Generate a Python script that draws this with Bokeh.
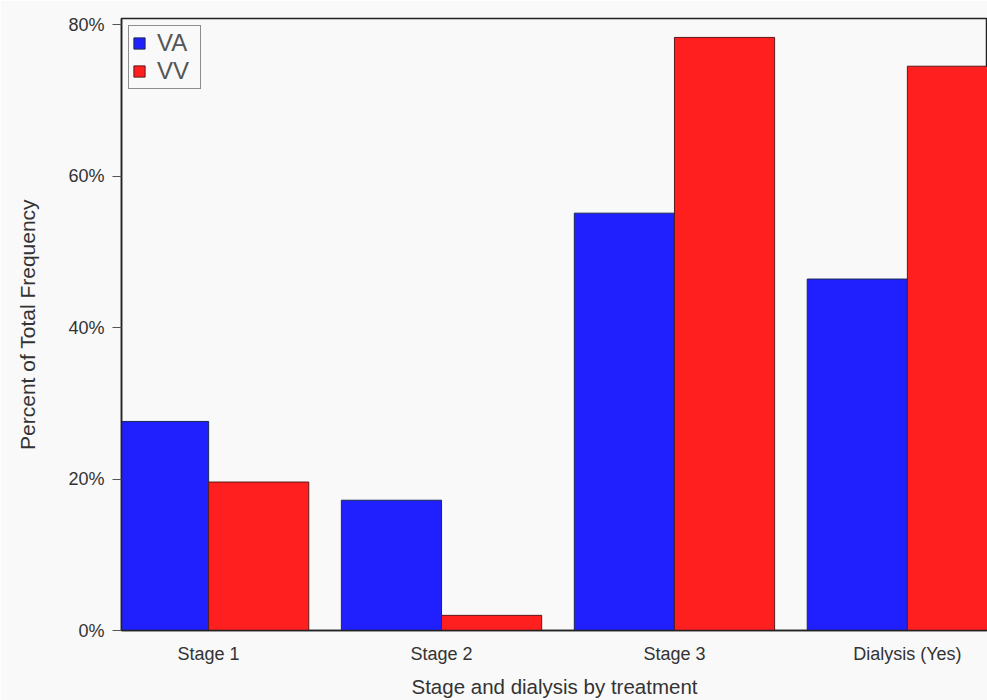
from bokeh.plotting import figure
from bokeh.models import ColumnDataSource, FixedTicker, PrintfTickFormatter, Range1d, Legend, LegendItem
from bokeh.transform import dodge
from bokeh.embed import file_html
from bokeh.resources import INLINE

categories = ["Stage 1", "Stage 2", "Stage 3", "Dialysis (Yes)"]
va_values = [27.6, 17.2, 55.1, 46.4]
vv_values = [19.6, 2.0, 78.3, 74.5]
y_ticks = [0, 20, 40, 60, 80]

positions = list(range(len(categories)))
src = ColumnDataSource(dict(x=positions, va=va_values, vv=vv_values))

BG = "#f9f9f9"
FONT = "Liberation Sans"

p = figure(width=987, height=700, output_backend="svg", toolbar_location=None,
           x_range=Range1d(-0.374, 3.344), y_range=Range1d(0, 80.8),
           min_border_left=121, min_border_right=0, min_border_top=18, min_border_bottom=68)
p.background_fill_color = BG
p.border_fill_color = BG
p.outline_line_color = "#222222"
p.outline_line_width = 1.5
p.grid.visible = False

r_va = p.vbar(x=dodge("x", -0.215, range=p.x_range), top="va", width=0.43, source=src,
              fill_color="#2020ff", line_color="#1a2a50", line_width=1)
r_vv = p.vbar(x=dodge("x", 0.215, range=p.x_range), top="vv", width=0.43, source=src,
              fill_color="#ff1f1f", line_color="#5a1a1a", line_width=1)

xa = p.xaxis[0]
xa.ticker = FixedTicker(ticks=positions)
xa.major_label_overrides = {i: c for i, c in zip(positions, categories)}
xa.major_tick_line_color = None
xa.major_tick_out = 0
xa.major_tick_in = 0
xa.minor_tick_line_color = None
xa.axis_line_color = "#222222"
xa.axis_line_width = 1.5
xa.major_label_text_font = FONT
xa.major_label_text_font_size = "18px"
xa.major_label_text_color = "#333333"
xa.major_label_text_line_height = 1.0
xa.major_label_standoff = 13
xa.axis_label = "Stage and dialysis by treatment"
xa.axis_label_text_font = FONT
xa.axis_label_text_font_size = "20.5px"
xa.axis_label_text_font_style = "normal"
xa.axis_label_text_color = "#333333"
xa.axis_label_text_line_height = 1.0
xa.axis_label_standoff = 8

ya = p.yaxis[0]
ya.ticker = FixedTicker(ticks=y_ticks)
ya.formatter = PrintfTickFormatter(format="%d%%")
ya.minor_tick_line_color = None
ya.major_tick_in = 0
ya.major_tick_out = 9
ya.major_tick_line_color = "#555555"
ya.axis_line_color = "#222222"
ya.axis_line_width = 1.5
ya.major_label_text_font = FONT
ya.major_label_text_font_size = "18px"
ya.major_label_text_color = "#333333"
ya.major_label_standoff = 8
ya.axis_label = "Percent of Total Frequency"
ya.axis_label_text_font = FONT
ya.axis_label_text_font_size = "21px"
ya.axis_label_text_font_style = "normal"
ya.axis_label_text_color = "#333333"
ya.axis_label_standoff = 26

legend = Legend(items=[LegendItem(label="VA", renderers=[r_va]),
                       LegendItem(label="VV", renderers=[r_vv])],
                location="top_left")
legend.margin = 7
legend.padding = 3
legend.spacing = 0
legend.glyph_width = 14
legend.glyph_height = 14
legend.label_width = 40
legend.label_text_font = FONT
legend.label_text_font_size = "24px"
legend.label_text_color = "#555555"
legend.label_standoff = 11
legend.border_line_color = "#222222"
legend.border_line_width = 1.5
legend.background_fill_color = BG
legend.background_fill_alpha = 1
p.add_layout(legend)

open("out.html", "w").write(file_html(p, INLINE))
